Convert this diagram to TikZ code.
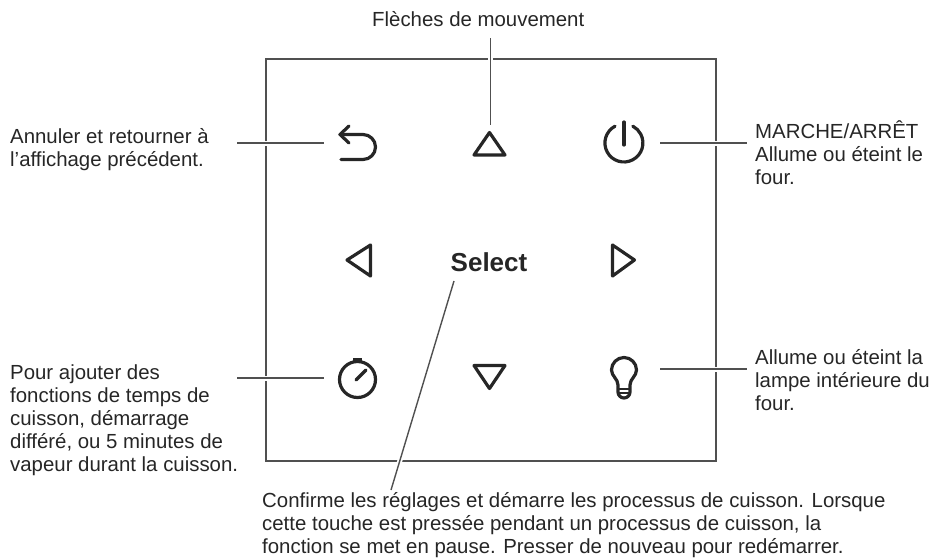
\documentclass[tikz,border=0pt]{standalone}
\usepackage{fontspec}
\setmainfont{Liberation Sans}
\definecolor{ink}{HTML}{262626}
\definecolor{leader}{HTML}{505050}

\begin{document}
\begin{tikzpicture}[x=1pt,y=-1pt,
  caption/.style ={anchor=north west, inner sep=0pt, align=left, text=ink, font=\fontsize{20.4}{23}\selectfont},
  panel/.style ={draw=leader, line width=1.9pt},
  icon/.style ={draw=ink, line width=3.2pt, line join=round, line cap=round},
  pointer/.style ={draw=leader, line width=1.4pt, preaction={draw=white, line width=5pt}}]
 \useasboundingbox (0,0) rectangle (934,557);
 \node[panel, minimum width=450pt, minimum height=402pt, inner sep=0pt] (P) at (491,260) {};
 % buttons
 \draw[icon] (474,155) -- (489.5,132.5) -- (505,155) -- cycle;
 \draw[icon] (370.5,245) -- (347,260) -- (370.5,276) -- cycle;
 \draw[icon] (612.5,245) -- (634.5,260) -- (612.5,276) -- cycle;
 \draw[icon] (474,365.5) -- (489.5,388.5) -- (505,365.5) -- cycle;
 \node[inner sep=0pt, text=ink, font=\fontsize{26}{30}\selectfont\bfseries] (S) at (489,262) {Select};
 % back
 \draw[icon] (349,126) -- (340,134.5) -- (349,143);
 \draw[icon] (340,134.5) -- (363,134.5) arc (-90:90:12.5) -- (341,159.5);
 % power
 \draw[icon] (615,126.2) arc (-118:-422:19);
 \draw[icon] (624,122) -- (624,145);
 % stopwatch
 \draw[icon] (357.5,379.5) circle (18);
 \draw[icon] (356,380) -- (366,370);
 \draw[icon, line width=4.5pt, line cap=butt] (353,360) -- (362,360);
 % bulb
 \draw[icon] (618,385) .. controls (618,379) and (611.5,376) .. (611.5,370) arc (180:360:12.5) .. controls (636.5,376) and (630,379) .. (630,385) -- (630,392) arc (0:180:6) -- cycle;
 \draw[icon, line width=1.2pt] (618,389) -- (630,389);
 \draw[icon, line width=1.2pt] (618,393) -- (630,393);
 % free ends of the pointers
 \coordinate (a) at (237,143);
 \coordinate (b) at (324,143);
 \coordinate (c) at (237,378);
 \coordinate (d) at (324,378);
 \coordinate (e) at (660,143);
 \coordinate (f) at (747,143);
 \coordinate (g) at (660,369);
 \coordinate (h) at (747,369);
 \coordinate (i) at (490.5,38);
 \coordinate (j) at (490.5,125);
 \coordinate (k) at (454,281);
 \coordinate (l) at (391,490);
 \draw[pointer] (a) to (b);
 \draw[pointer] (c) to (d);
 \draw[pointer] (e) to (f);
 \draw[pointer] (g) to (h);
 \draw[pointer] (i) to (j);
 \draw[pointer] (k) to (l);
 % captions
 \node[caption] (T1) at (372,11) {Flèches de mouvement};
 \node[caption] (T2) at (10,128) {Annuler et retourner à\\l’affichage précédent.};
 \node[caption] (T3) at (10,365) {Pour ajouter des\\fonctions de temps de\\cuisson, démarrage\\différé, ou 5 minutes de\\vapeur durant la cuisson.};
 \node[caption] (T4) at (755,120) {MARCHE/ARRÊT\\Allume ou éteint le\\four.};
 \node[caption] (T5) at (755,349) {Allume ou éteint la\\lampe intérieure du\\four.};
 \node[caption] (T6) at (262,492) {Confirme les réglages et démarre les processus de cuisson. Lorsque\\cette touche est pressée pendant un processus de cuisson, la\\fonction se met en pause. Presser de nouveau pour redémarrer.};
\end{tikzpicture}
\end{document}
